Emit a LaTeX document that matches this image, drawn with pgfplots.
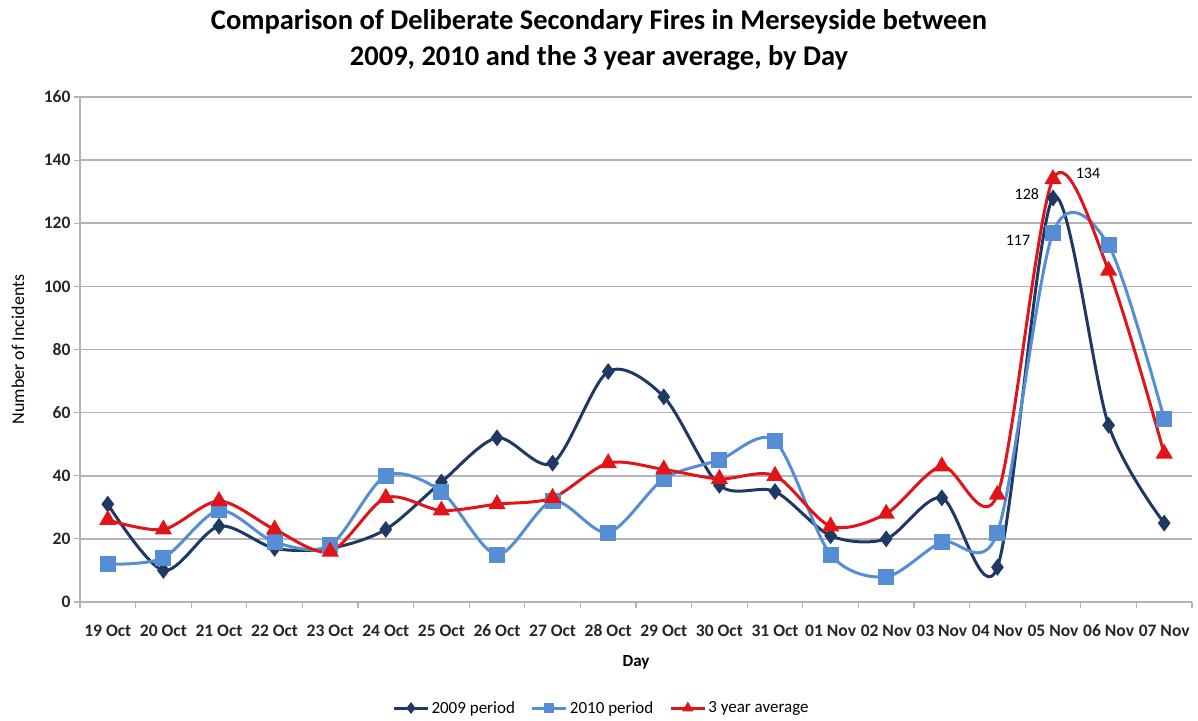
\documentclass[border=0pt]{standalone}
\usepackage{fontspec}
\setmainfont{Carlito}
\usepackage{pgfplots}
\pgfplotsset{compat=1.18}
\definecolor{c09}{RGB}{31,56,100}
\definecolor{c10}{RGB}{85,142,213}
\definecolor{c3y}{RGB}{225,20,25}
\definecolor{gridc}{RGB}{180,180,180}
\begin{document}
\begin{tikzpicture}[x=1pt,y=1pt]
\useasboundingbox (0,0) rectangle (1198,720);
\node[font=\bfseries\fontsize{28.5}{36}\selectfont, align=center] at (599,680)
  {Comparison of Deliberate Secondary Fires in Merseyside between\\2009, 2010 and the 3 year average, by Day};
\begin{axis}[
  at={(80pt,118pt)}, anchor=south west,
  scale only axis, width=1112pt, height=505pt,
  xmin=-0.5, xmax=19.5, ymin=0, ymax=160,
  xtick={0,...,19},
  xticklabels={19 Oct,20 Oct,21 Oct,22 Oct,23 Oct,24 Oct,25 Oct,26 Oct,27 Oct,28 Oct,29 Oct,30 Oct,31 Oct,01 Nov,02 Nov,03 Nov,04 Nov,05 Nov,06 Nov,07 Nov},
  major x tick style={draw=none},
  minor xtick={-0.5,0.5,...,19.5},
  minor tick length=6pt,
  ytick={0,20,...,160},
  major tick length=6pt,
  tick align=outside,
  axis x line*=bottom, axis y line*=left,
  axis line style={-, gridc, line width=1.5pt},
  tick style={gridc, line width=1.2pt},
  ymajorgrids, grid style={gridc, line width=1.5pt},
  /pgf/number format/assume math mode=true,
  ticklabel style={font=\bfseries\fontsize{17.5}{20}\selectfont, text=black!85},
  xticklabel style={yshift=-13pt},
  xlabel={Day}, ylabel={Number of Incidents},
  every axis x label/.style={at={(rel axis cs:0.5,0)}, anchor=center, yshift=-60pt, font=\bfseries\fontsize{17}{20}\selectfont},
  every axis y label/.style={at={(axis description cs:-0.0558,0.5)}, rotate=90, anchor=center, font=\fontsize{18}{20}\selectfont},
  legend style={at={(rel axis cs:0.469,0)}, anchor=center, yshift=-106pt, draw=none, fill=none,
    font=\fontsize{17}{20}\selectfont, legend columns=3,
    /tikz/every even column/.append style={column sep=14pt}},
  legend image code/.code={\draw[mark repeat=2,mark phase=2,mark size=3.5pt] plot coordinates {(0pt,0pt) (17pt,0pt) (34pt,0pt)};},
  every axis plot/.append style={line width=3pt, smooth},
]
\addplot[c09, mark=diamond*, mark size=6pt, mark options={solid}] coordinates {
(0,31) (1,10) (2,24) (3,17) (4,17) (5,23) (6,38) (7,52) (8,44) (9,73) (10,65) (11,37) (12,35) (13,21) (14,20) (15,33) (16,11) (17,128) (18,56) (19,25)};
\addlegendentry{2009 period}
\addplot[c10, mark=square*, mark size=6.5pt, mark options={solid}] coordinates {
(0,12) (1,14) (2,29) (3,19) (4,18) (5,40) (6,35) (7,15) (8,32) (9,22) (10,39) (11,45) (12,51) (13,15) (14,8) (15,19) (16,22) (17,117) (18,113) (19,58)};
\addlegendentry{2010 period}
\addplot[c3y, mark=triangle*, mark size=7pt, mark options={solid}] coordinates {
(0,26) (1,23) (2,32) (3,23) (4,16) (5,33) (6,29) (7,31) (8,33) (9,44) (10,42) (11,39) (12,40) (13,24) (14,28) (15,43) (16,34) (17,134) (18,105) (19,47)};
\addlegendentry{3 year average}
\node[font=\fontsize{16}{18}\selectfont] at (axis cs:16.53,129.3) {128};
\node[font=\fontsize{16}{18}\selectfont] at (axis cs:16.37,114.7) {117};
\node[font=\fontsize{16}{18}\selectfont] at (axis cs:17.63,135.9) {134};
\end{axis}
\end{tikzpicture}
\end{document}
